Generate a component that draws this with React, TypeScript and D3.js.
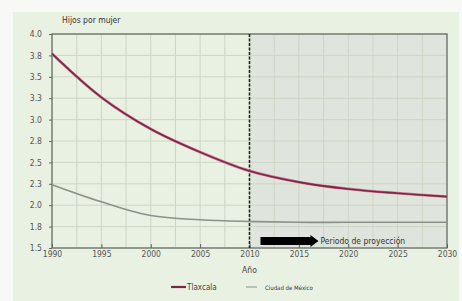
import React, { useRef, useEffect } from "react";
import * as d3 from "d3";

const years = [1990, 1995, 2000, 2005, 2010, 2015, 2020, 2025, 2030];
const tlaxcala = [3.77, 3.26, 2.89, 2.62, 2.4, 2.27, 2.19, 2.14, 2.1];
const cdmx = [2.24, 2.04, 1.88, 1.83, 1.81, 1.8, 1.8, 1.8, 1.8];
const yTicks = [1.5, 1.75, 2.0, 2.25, 2.5, 2.75, 3.0, 3.25, 3.5, 3.75, 4.0];
const xTicks = [1990, 1995, 2000, 2005, 2010, 2015, 2020, 2025, 2030];
const projectionStart = 2010;

const W = 462;
const H = 301;
const FONT = "'Liberation Sans Narrow', 'DejaVu Sans Condensed', sans-serif";

const App = () => {
  const svgRef = useRef<SVGSVGElement>(null);

  useEffect(() => {
    const svg = d3.select(svgRef.current);
    svg.selectAll("*").remove();

    const left = 52, right = 447, top = 34, bottom = 248;
    const x = d3.scaleLinear().domain([1990, 2030]).range([left, right]);
    const y = d3.scaleLinear().domain([1.5, 4.0]).range([bottom, top]);

    // page + panel
    svg.append("rect").attr("width", W).attr("height", H).attr("fill", "#f8f9f7");
    svg.append("rect").attr("x", 13).attr("y", 12).attr("width", 446).attr("height", 289).attr("fill", "#e9f1e3");

    // shaded projection region
    svg.append("rect")
      .attr("x", x(projectionStart)).attr("y", top)
      .attr("width", right - x(projectionStart)).attr("height", bottom - top)
      .attr("fill", "#dfe5dc");

    // grid
    const g = svg.append("g");
    d3.range(1990, 2030.1, 2.5).forEach((v) => {
      g.append("line").attr("x1", x(v)).attr("x2", x(v)).attr("y1", top).attr("y2", bottom)
        .attr("stroke", "#cdd6c6").attr("stroke-width", 1);
    });
    yTicks.forEach((v) => {
      g.append("line").attr("x1", left).attr("x2", right).attr("y1", y(v)).attr("y2", y(v))
        .attr("stroke", "#cdd6c6").attr("stroke-width", 1);
    });

    // frame
    svg.append("rect").attr("x", left).attr("y", top).attr("width", right - left).attr("height", bottom - top)
      .attr("fill", "none").attr("stroke", "#5f6660").attr("stroke-width", 1.2);

    // y axis
    const yAxis = d3.axisLeft(y).tickValues(yTicks).tickSize(3)
      .tickFormat((d) => (Math.round(+d * 10) / 10).toFixed(1));
    const ya = svg.append("g").attr("transform", `translate(${left},0)`).call(yAxis);
    ya.select(".domain").remove();
    ya.selectAll("line").attr("stroke", "#5f6660");
    ya.selectAll("text").attr("font-family", FONT).attr("font-size", 8.5).attr("fill", "#555").attr("x", -10);

    // x axis
    const xAxis = d3.axisBottom(x).tickValues(xTicks).tickSize(-4).tickFormat(d3.format("d"));
    const xa = svg.append("g").attr("transform", `translate(0,${bottom})`).call(xAxis);
    xa.select(".domain").remove();
    xa.selectAll("line").attr("stroke", "#5f6660");
    xa.selectAll("text").attr("font-family", FONT).attr("font-size", 8.5).attr("fill", "#555").attr("dy", "0.9em").attr("y", 1);

    // dashed divider
    svg.append("line").attr("x1", x(projectionStart)).attr("x2", x(projectionStart))
      .attr("y1", top).attr("y2", bottom)
      .attr("stroke", "#222").attr("stroke-width", 1.6).attr("stroke-dasharray", "3,1.5");

    // lines
    const ln = (vals: number[]) =>
      d3.line<number>().x((_, i) => x(years[i])).y((d) => y(d)).curve(d3.curveCatmullRom.alpha(0.5))(vals);
    svg.append("path").attr("d", ln(cdmx)).attr("fill", "none").attr("stroke", "#8c908a").attr("stroke-width", 1.6);
    svg.append("path").attr("d", ln(tlaxcala)).attr("fill", "none").attr("stroke", "#c97c97").attr("stroke-width", 2.8);
    svg.append("path").attr("d", ln(tlaxcala)).attr("fill", "none").attr("stroke", "#7e2445").attr("stroke-width", 1.6);

    // arrow
    const ay = 241;
    const ax0 = x(projectionStart) + 11;
    const ax1 = ax0 + 58;
    svg.append("path")
      .attr("d", `M${ax0},${ay - 4}L${ax1 - 8},${ay - 4}L${ax1 - 8},${ay - 6}L${ax1},${ay}L${ax1 - 8},${ay + 6}L${ax1 - 8},${ay + 4}L${ax0},${ay + 4}Z`)
      .attr("fill", "#000");
    svg.append("text").attr("x", ax1 + 2).attr("y", ay + 3).text("Periodo de proyección")
      .attr("font-family", FONT).attr("font-size", 8.5).attr("fill", "#333");

    // titles
    svg.append("text").attr("x", 62).attr("y", 23).text("Hijos por mujer")
      .attr("font-family", FONT).attr("font-size", 8.5).attr("fill", "#333");
    svg.append("text").attr("x", x(projectionStart)).attr("y", 273).attr("text-anchor", "middle").text("Año")
      .attr("font-family", FONT).attr("font-size", 8.5).attr("fill", "#444");

    // legend
    const ly = 287;
    svg.append("line").attr("x1", 171).attr("x2", 186).attr("y1", ly).attr("y2", ly)
      .attr("stroke", "#7e2445").attr("stroke-width", 2.2);
    svg.append("text").attr("x", 187).attr("y", ly + 3).text("Tlaxcala")
      .attr("font-family", FONT).attr("font-size", 8).attr("fill", "#444");
    svg.append("line").attr("x1", 246).attr("x2", 257).attr("y1", ly).attr("y2", ly)
      .attr("stroke", "#8c908a").attr("stroke-width", 1);
    svg.append("text").attr("x", 265).attr("y", ly + 2.5).text("Ciudad de México")
      .attr("font-family", FONT).attr("font-size", 6).attr("fill", "#333");
  }, []);

  return (
    <svg ref={svgRef} width={W} height={H} style={{ position: "absolute", left: 0, top: 0 }} />
  );
};

export default App;
